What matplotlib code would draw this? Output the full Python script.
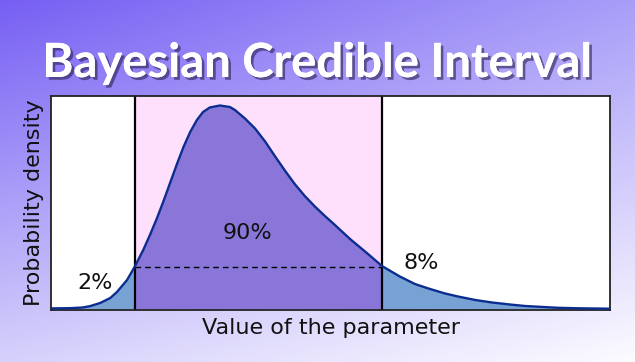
import matplotlib
matplotlib.use("Agg")
import matplotlib.pyplot as plt
import matplotlib.patheffects as pe
import numpy as np

# colours
C_LINE = "#0b2d8f"
C_MID = "#8a76d9"
C_TAIL = "#78a2d4"
C_PINK = "#ffe0fc"
C_TEXT = "#111111"

# posterior density (arbitrary units)
param = [0.00, 0.35, 0.57, 0.70, 0.88, 1.06, 1.18, 1.36, 1.50,
         1.65, 1.77, 1.89, 2.01, 2.13, 2.25, 2.37, 2.49, 2.61, 2.72,
         2.84, 3.02, 3.20, 3.29, 3.47, 3.65, 3.83, 4.01, 4.19, 4.36,
         4.54, 4.72, 4.90, 5.04, 5.35, 5.65, 5.92,
         6.24, 6.51, 6.78, 7.05, 7.28, 7.59, 7.89, 8.21, 8.48, 9.07, 9.46,
         10.00]
density = [0.0012, 0.0017, 0.0030, 0.0058, 0.012, 0.022, 0.034, 0.058,
           0.085, 0.118, 0.148, 0.180, 0.215, 0.252, 0.289, 0.324, 0.354,
           0.378, 0.394, 0.403, 0.407, 0.404, 0.398, 0.381, 0.361, 0.335,
           0.305, 0.276, 0.250, 0.226, 0.205, 0.186, 0.172, 0.140, 0.112,
           0.086, 0.065, 0.050, 0.040, 0.031, 0.025, 0.018, 0.013, 0.009,
           0.006, 0.0024, 0.0014, 0.0006]

ci_low, ci_high = 1.50, 5.92
labels = ["2%", "90%", "8%"]
label_pos = [(0.79, 0.052), (3.51, 0.152), (6.62, 0.092)]

x = np.array(param)
y = np.array(density)
y_edge = np.interp(ci_low, x, y)

W, H = 635, 362
fig = plt.figure(figsize=(W / 100, H / 100), dpi=100)

# background gradient (violet top-left -> near white bottom-right)
bg = fig.add_axes([0, 0, 1, 1])
tl = np.array([0x76, 0x5f, 0xf3]) / 255
tr = np.array([0xa8, 0x9e, 0xf8]) / 255
bl = np.array([0xd6, 0xd1, 0xfc]) / 255
br = np.array([0xfc, 0xfb, 0xff]) / 255
u = np.linspace(0, 1, 200)[None, :, None]
v = np.linspace(0, 1, 120)[:, None, None]
grad = (1 - v) * ((1 - u) * tl + u * tr) + v * ((1 - u) * bl + u * br)
bg.imshow(grad, aspect="auto", extent=[0, 1, 0, 1], interpolation="bilinear")
bg.set_axis_off()

fig.text(0.5, 1 - 77 / H, "Bayesian Credible Interval", ha="center",
         va="baseline", fontsize=34, fontweight="bold", color="white",
         family=["Lato", "DejaVu Sans"],
         path_effects=[pe.withSimplePatchShadow(offset=(2, -2),
                                                shadow_rgbFace="#2a2050",
                                                alpha=0.6),
                       pe.Normal()])

ax = fig.add_axes([51 / W, 1 - 310 / H, 559 / W, 214 / H])
ax.set_facecolor("white")
ax.axvspan(ci_low, ci_high, color=C_PINK, zorder=0, lw=0)

mid = (x >= ci_low) & (x <= ci_high)
left = x <= ci_low
right = x >= ci_high
ax.fill_between(x[left], 0, y[left], color=C_TAIL, lw=0, zorder=1)
ax.fill_between(x[mid], 0, y[mid], color=C_MID, lw=0, zorder=1)
ax.fill_between(x[right], 0, y[right], color=C_TAIL, lw=0, zorder=1)

ax.plot(x, y, color=C_LINE, lw=1.7, zorder=3, solid_capstyle="round",
        solid_joinstyle="round")
ax.plot([ci_low, ci_high], [y_edge, y_edge], "--", color="black", lw=1,
        dashes=(4, 3), zorder=2)
ax.axvline(ci_low, color="black", lw=1.6, zorder=2)
ax.axvline(ci_high, color="black", lw=1.6, zorder=2)

for txt, (tx, ty) in zip(labels, label_pos):
    ax.text(tx, ty, txt, ha="center", va="center", fontsize=16,
            color=C_TEXT)

ax.set_xlim(0, 10)
ax.set_ylim(-0.002, 0.426)
ax.set_xticks([])
ax.set_yticks([])
for s in ax.spines.values():
    s.set_color("#222222")
    s.set_linewidth(1.3)

ax.set_xlabel("Value of the parameter", fontsize=16, color=C_TEXT,
              labelpad=6)
ax.set_ylabel("Probability density", fontsize=16, color=C_TEXT,
              labelpad=5)

fig.savefig("out.png", dpi=100)
plt.close(fig)
